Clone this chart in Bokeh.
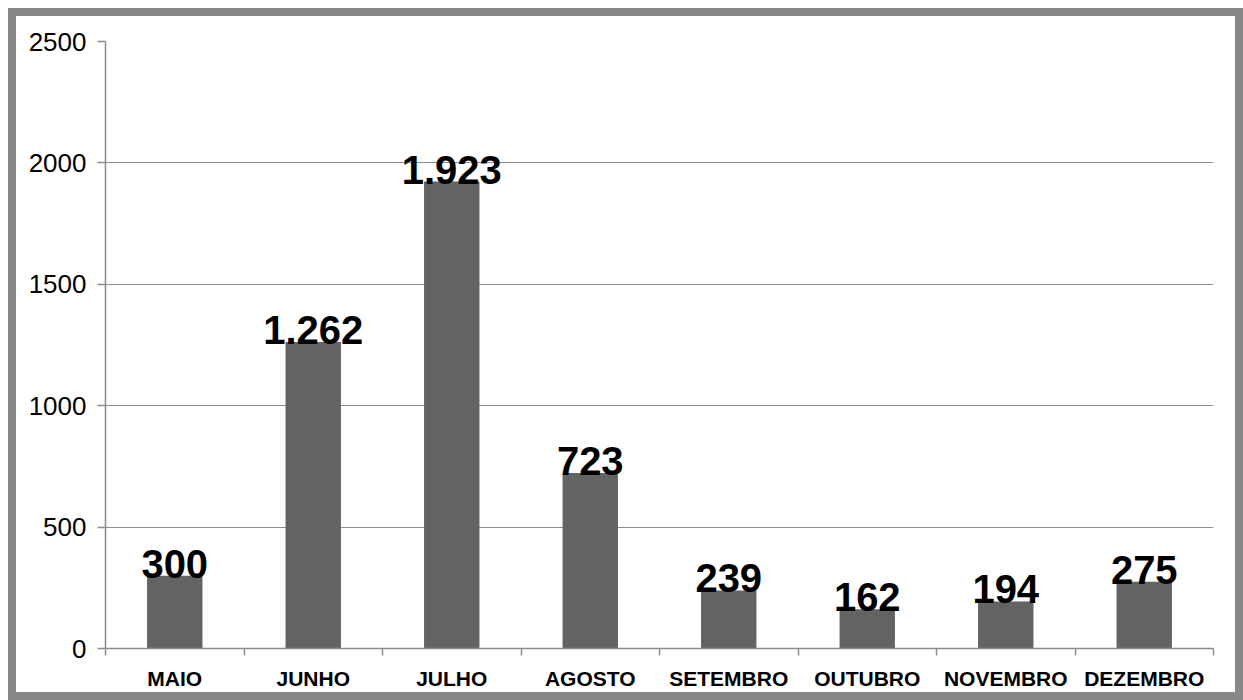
import numpy as np
from bokeh.plotting import figure
from bokeh.models import ColumnDataSource, Range1d, FixedTicker
from bokeh.embed import file_html
from bokeh.resources import INLINE
from bokeh.core.properties import value

months = ["MAIO", "JUNHO", "JULHO", "AGOSTO", "SETEMBRO", "OUTUBRO", "NOVEMBRO", "DEZEMBRO"]
counts = [300, 1262, 1923, 723, 239, 162, 194, 275]
y_ticks = [0, 500, 1000, 1500, 2000, 2500]

idx = np.arange(len(months))
labels = [f"{v:,}".replace(",", ".") for v in counts]
src = ColumnDataSource(dict(x=idx, top=counts, label=labels))

FONT = "Liberation Sans"
GRAY = "#8c8c8c"

p = figure(width=1219, height=676, output_backend="svg", toolbar_location=None,
           x_range=Range1d(-0.5, len(months) - 0.5), y_range=Range1d(0, 2500),
           min_border_left=89, min_border_right=38, min_border_top=25, min_border_bottom=60,
           styles={"border": "8px solid #888888", "box-sizing": "content-box",
                   "margin": "8px 0 0 8px"})
p.outline_line_color = None
p.background_fill_color = "white"
p.border_fill_color = "white"

p.vbar(x="x", top="top", width=0.4, source=src, fill_color="#636363", line_color=None)
p.text(x="x", y="top", text="label", source=src, text_align="center",
       text_baseline="alphabetic", y_offset=-12, text_font=value(FONT),
       text_font_size="40px", text_font_style="bold", text_color="black")

# x axis
xa = p.xaxis[0]
xa.ticker = FixedTicker(ticks=list(idx), minor_ticks=list(idx - 0.5) + [len(months) - 0.5])
xa.major_label_overrides = {int(i): m for i, m in zip(idx, months)}
xa.major_tick_line_color = None
xa.major_tick_out = 0
xa.major_tick_in = 0
xa.minor_tick_line_color = GRAY
xa.minor_tick_line_width = 1.5
xa.minor_tick_out = 7
xa.minor_tick_in = 0
xa.axis_line_color = GRAY
xa.axis_line_width = 1.5
xa.major_label_text_font = FONT
xa.major_label_text_font_size = "21px"
xa.major_label_text_font_style = "bold"
xa.major_label_text_color = "black"
xa.major_label_standoff = 11

# y axis
ya = p.yaxis[0]
ya.ticker = FixedTicker(ticks=y_ticks)
ya.minor_tick_line_color = None
ya.major_tick_line_color = GRAY
ya.major_tick_line_width = 1.5
ya.major_tick_out = 8
ya.major_tick_in = 0
ya.axis_line_color = GRAY
ya.axis_line_width = 1.5
ya.major_label_text_font = FONT
ya.major_label_text_font_size = "26px"
ya.major_label_text_color = "black"
ya.major_label_standoff = 11

p.xgrid.visible = False
p.ygrid.grid_line_color = GRAY
p.ygrid.grid_line_width = 1.2
p.ygrid.ticker = ya.ticker

open("out.html", "w").write(file_html(p, INLINE))
